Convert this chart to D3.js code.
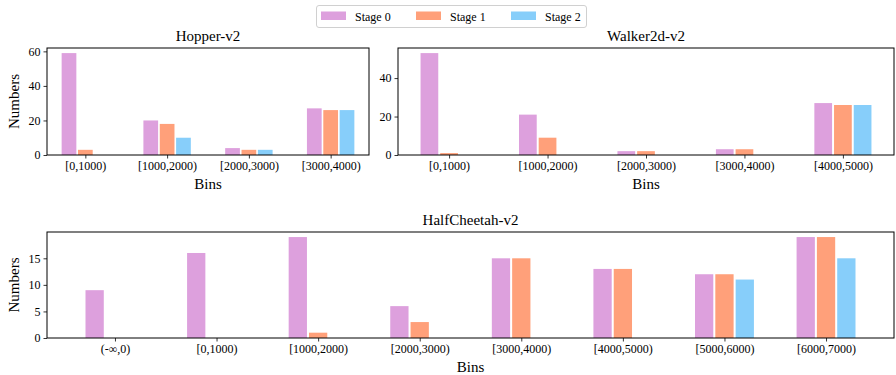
<!DOCTYPE html>
<html>
<head>
<meta charset="utf-8">
<script src="https://cdn.jsdelivr.net/npm/d3@7"></script>
<style>
  html, body { margin: 0; padding: 0; background: #fff; }
  svg { display: block; }
  svg text { font-family: "Liberation Serif", "Times New Roman", serif; }
</style>
</head>
<body>
<svg id="chart" width="896" height="375"></svg>
<script>
// Episode-return bins per environment, and how many runs fall in each bin per stage
const stages = ["Stage 0", "Stage 1", "Stage 2"];
const stageColors = ["#DDA0DD", "#FFA07A", "#87CEFA"];

const hopperBins = ["[0,1000)", "[1000,2000)", "[2000,3000)", "[3000,4000)"];
const hopperStage0 = [59, 20, 4, 27];
const hopperStage1 = [3, 18, 3, 26];
const hopperStage2 = [0, 10, 3, 26];
const hopperTicks = [0, 20, 40, 60];

const walkerBins = ["[0,1000)", "[1000,2000)", "[2000,3000)", "[3000,4000)", "[4000,5000)"];
const walkerStage0 = [53, 21, 2, 3, 27];
const walkerStage1 = [1, 9, 2, 3, 26];
const walkerStage2 = [0, 0, 0, 0, 26];
const walkerTicks = [0, 20, 40];

const cheetahBins = ["(-\u221E,0)", "[0,1000)", "[1000,2000)", "[2000,3000)", "[3000,4000)", "[4000,5000)", "[5000,6000)", "[6000,7000)"];
const cheetahStage0 = [9, 16, 19, 6, 15, 13, 12, 19];
const cheetahStage1 = [0, 0, 1, 3, 15, 13, 12, 19];
const cheetahStage2 = [0, 0, 0, 0, 0, 0, 11, 15];
const cheetahTicks = [0, 5, 10, 15];

const svg = d3.select("#chart");

const barOffset = 0.2;   // distance between grouped bars, in category units
const barWidth = 0.18;

function panel(opt) {
  const { x0, x1, y0, y1, title, bins, series, ticks } = opt;
  const n = bins.length;
  const extent = barOffset + barWidth / 2;
  const margin = 0.05 * (n - 1 + 2 * extent);
  const x = d3.scaleLinear()
    .domain([-extent - margin, n - 1 + extent + margin])
    .range([x0, x1]);
  const ymax = d3.max(series.flat()) * 1.05;
  const y = d3.scaleLinear().domain([0, ymax]).range([y1, y0]);

  const g = svg.append("g");

  // bars
  series.forEach((vals, si) => {
    g.append("g").selectAll("rect")
      .data(vals.map((v, i) => ({ v, i })).filter(d => d.v > 0))
      .join("rect")
      .attr("x", d => x(d.i + (si - 1) * barOffset - barWidth / 2))
      .attr("width", d => x(d.i + barWidth) - x(d.i))
      .attr("y", d => y(d.v))
      .attr("height", d => y(0) - y(d.v))
      .attr("fill", stageColors[si]);
  });

  // x axis
  const xAxis = d3.axisBottom(x)
    .tickValues(d3.range(n))
    .tickFormat(i => bins[i])
    .tickSize(3.5)
    .tickPadding(3);
  const gx = g.append("g").attr("transform", `translate(0,${y1})`).call(xAxis)
    .attr("font-family", null).attr("font-size", null);
  gx.select(".domain").remove();
  gx.selectAll("text").attr("font-size", 12).attr("fill", "#000");
  gx.selectAll("line").attr("stroke", "#000").attr("stroke-width", 0.8);

  // y axis
  const yAxis = d3.axisLeft(y).tickValues(ticks).tickSize(3.5).tickPadding(3);
  const gy = g.append("g").attr("transform", `translate(${x0},0)`).call(yAxis)
    .attr("font-family", null).attr("font-size", null);
  gy.select(".domain").remove();
  gy.selectAll("text").attr("font-size", 12).attr("fill", "#000");
  gy.selectAll("line").attr("stroke", "#000").attr("stroke-width", 0.8);

  // frame
  g.append("rect")
    .attr("x", x0).attr("y", y0)
    .attr("width", x1 - x0).attr("height", y1 - y0)
    .attr("fill", "none").attr("stroke", "#000").attr("stroke-width", 1);

  // title and axis labels
  g.append("text")
    .attr("x", (x0 + x1) / 2).attr("y", y0 - 7)
    .attr("text-anchor", "middle").attr("font-size", 15)
    .text(title);
  g.append("text")
    .attr("x", (x0 + x1) / 2).attr("y", y1 + 34)
    .attr("text-anchor", "middle").attr("font-size", 15)
    .text("Bins");
  if (opt.ylabel) {
    g.append("text")
      .attr("transform", `translate(19,${(y0 + y1) / 2}) rotate(-90)`)
      .attr("text-anchor", "middle").attr("font-size", 15)
      .text("Numbers");
  }
}

panel({ x0: 47, x1: 369, y0: 48, y1: 155, title: "Hopper-v2", bins: hopperBins,
  series: [hopperStage0, hopperStage1, hopperStage2], ticks: hopperTicks, ylabel: true });
panel({ x0: 398, x1: 894, y0: 48, y1: 155, title: "Walker2d-v2", bins: walkerBins,
  series: [walkerStage0, walkerStage1, walkerStage2], ticks: walkerTicks, ylabel: false });
panel({ x0: 47, x1: 894, y0: 232, y1: 338, title: "HalfCheetah-v2", bins: cheetahBins,
  series: [cheetahStage0, cheetahStage1, cheetahStage2], ticks: cheetahTicks, ylabel: true });

// legend
const legend = svg.append("g");
legend.append("rect")
  .attr("x", 316.5).attr("y", 5.5).attr("width", 270).attr("height", 22)
  .attr("rx", 2.5).attr("fill", "#fff").attr("stroke", "#d0d0d0").attr("stroke-width", 1);
const entryX = [321, 416, 511];
stages.forEach((s, i) => {
  legend.append("rect")
    .attr("x", entryX[i]).attr("y", 11.5).attr("width", 25).attr("height", 8.5)
    .attr("fill", stageColors[i]);
  legend.append("text")
    .attr("x", entryX[i] + 34).attr("y", 20.5)
    .attr("font-size", 12)
    .text(s);
});
</script>
</body>
</html>
